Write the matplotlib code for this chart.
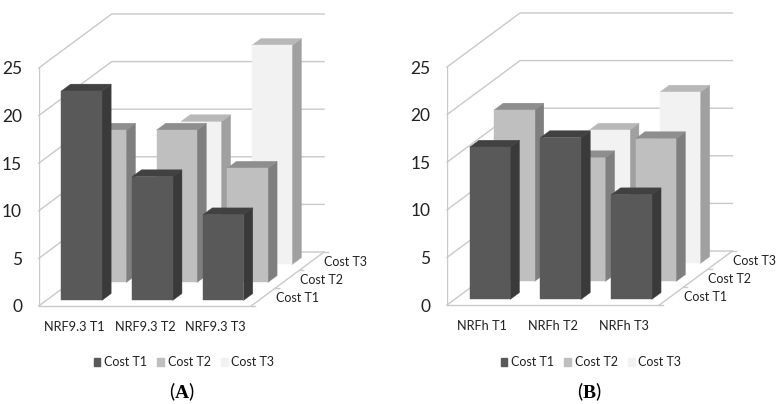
import matplotlib
matplotlib.use("Agg")
import matplotlib.pyplot as plt
from matplotlib.patches import Polygon, Patch

plt.rcParams['font.family'] = ['Lato', 'DejaVu Sans']
plt.rcParams['mathtext.fontset'] = 'custom'
plt.rcParams['mathtext.rm'] = 'Liberation Serif'
plt.rcParams['mathtext.bf'] = 'Liberation Serif:bold'

series_names = ["Cost T1", "Cost T2", "Cost T3"]
value_ticks = [0, 5, 10, 15, 20, 25]

categories_a = ["NRF9.3 T1", "NRF9.3 T2", "NRF9.3 T3"]
cost_t1_a = [22, 13, 9]
cost_t2_a = [16, 16, 12]
cost_t3_a = [0, 15, 23]

categories_b = ["NRFh T1", "NRFh T2", "NRFh T3"]
cost_t1_b = [16, 17, 11]
cost_t2_b = [18, 13, 15]
cost_t3_b = [0, 14, 18]

# front, side, top colour for each series
colours = [("#595959", "#3a3a3a", "#414141"),
           ("#bfbfbf", "#7f7f7f", "#8e8e8e"),
           ("#f2f2f2", "#a0a0a0", "#b8b8b8")]
GRID = "#c9c9c9"

W, H = 782, 404
PX_X = 70.8    # pixels per category
PX_Y = 9.52    # pixels per value unit
SHIFT_X = 73 / PX_X / 3    # oblique shift per series, in category units
SHIFT_Y = 54 / PX_Y / 3    # oblique shift per series, in value units
BAR_W = 0.572
BAR_D = (0.31, 0.69)


def proj(x, y, d):
    return x + d * SHIFT_X, y + d * SHIFT_Y


def draw_bar(ax, x0, x1, h, d0, d1, cols, z):
    front, side, top = cols
    pts_front = [proj(x0, 0, d0), proj(x1, 0, d0), proj(x1, h, d0), proj(x0, h, d0)]
    pts_side = [proj(x1, 0, d0), proj(x1, 0, d1), proj(x1, h, d1), proj(x1, h, d0)]
    pts_top = [proj(x0, h, d0), proj(x1, h, d0), proj(x1, h, d1), proj(x0, h, d1)]
    for pts, c in [(pts_side, side), (pts_top, top), (pts_front, front)]:
        ax.add_patch(Polygon(pts, closed=True, fc=c, ec=c, lw=0.3, zorder=z))


def draw_panel(left, base, categories, values, letter, legend_x, letter_x):
    n = len(categories)
    depth = len(values)
    width = n + depth * SHIFT_X
    top_val = value_ticks[-1] + depth * SHIFT_Y
    ax = fig.add_axes([left / W, (H - base) / H, width * PX_X / W, top_val * PX_Y / H])
    ax.set_xlim(0, width)
    ax.set_ylim(0, top_val)
    ax.patch.set_alpha(0)
    for s in ax.spines.values():
        s.set_visible(False)

    # walls and floor sit behind the bars
    for v in value_ticks:
        xs, ys = zip(proj(0, v, 0), proj(0, v, depth), proj(n, v, depth))
        ax.plot(xs, ys, color=GRID, lw=1.0, clip_on=False, zorder=0)
    ax.plot([0, 0], [0, value_ticks[-1]], color=GRID, lw=1.0, zorder=0)
    ax.plot([0, n], [0, 0], color=GRID, lw=1.0, clip_on=False, zorder=0)
    xs, ys = zip(proj(n, 0, 0), proj(n, 0, depth))
    ax.plot(xs, ys, color=GRID, lw=1.0, clip_on=False, zorder=0)
    for d in range(depth + 1):
        xs, ys = zip(proj(n, 0, d), proj(n + 0.05, 0, d))
        ax.plot(xs, ys, color=GRID, lw=1.0, clip_on=False, zorder=0)

    # back series first so the front ones cover them
    for d in range(depth - 1, -1, -1):
        for i, h in enumerate(values[d]):
            if h > 0:
                c = i + 0.5
                draw_bar(ax, c - BAR_W / 2, c + BAR_W / 2, h, d + BAR_D[0], d + BAR_D[1],
                         colours[d], depth - d)

    for d, name in enumerate(series_names):
        ax.annotate(name, proj(n, 0, d + 0.5), xytext=(9, -1), textcoords="offset points",
                    ha="left", va="center", fontsize=9, color="#222222", annotation_clip=False)

    ax.set_xticks([i + 0.5 for i in range(n)])
    ax.set_xticklabels(categories, fontsize=9.2, color="#222222")
    ax.set_yticks(value_ticks)
    ax.tick_params(axis="x", length=0, pad=10.5)
    ax.tick_params(axis="y", length=0, pad=12, labelsize=12.5, labelcolor="#222222")

    handles = [Patch(fc=colours[d][0], ec=colours[d][0], label=series_names[d]) for d in range(depth)]
    fig.legend(handles=handles, loc="center", bbox_to_anchor=(legend_x / W, (H - 362.5) / H),
               ncol=depth, frameon=False, fontsize=9, handlelength=0.55, handleheight=0.55,
               handletextpad=0.3, columnspacing=0.8, labelcolor="#222222")

    fig.text(letter_x / W, (H - 391.5) / H, "($\\mathbf{%s}$)" % letter, ha="center", va="center",
             fontsize=14, color="black")


fig = plt.figure(figsize=(W / 100, H / 100), dpi=100)
draw_panel(38.7, 306, categories_a, [cost_t1_a, cost_t2_a, cost_t3_a], "A", 184, 182)
draw_panel(447, 305, categories_b, [cost_t1_b, cost_t2_b, cost_t3_b], "B", 591, 589)
fig.savefig("out.png", dpi=100)
